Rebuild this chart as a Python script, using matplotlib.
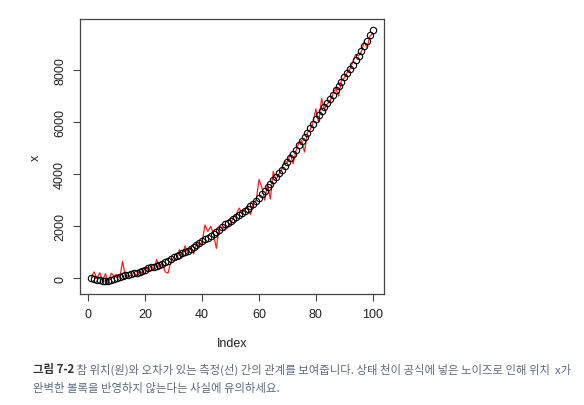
import matplotlib
matplotlib.use("Agg")
import matplotlib.pyplot as plt
import numpy as np

index = list(range(1, 101))
true_x = [0, -30, -60, -80, -90, -95, -90, -70, -40, 10,
          50, 90, 120, 140, 160, 190, 220, 250, 290, 340,
          380, 420, 450, 480, 510, 560, 620, 680, 750, 820,
          860, 910, 960, 1010, 1060, 1130, 1200, 1270, 1350, 1450,
          1500, 1560, 1620, 1690, 1770, 1870, 1980, 2070, 2130, 2200,
          2270, 2340, 2420, 2510, 2600, 2680, 2770, 2870, 2980, 3100,
          3230, 3360, 3490, 3620, 3760, 3900, 4040, 4180, 4320, 4460,
          4620, 4780, 4940, 5110, 5280, 5440, 5600, 5770, 5940, 6110,
          6270, 6430, 6590, 6750, 6900, 7060, 7220, 7380, 7550, 7720,
          7880, 8040, 8200, 8370, 8540, 8730, 8920, 9120, 9330, 9550]
measured = [50, 250, 0, 220, -80, 180, -200, 200, 100, 150,
            0, 650, 80, 100, 120, 220, 100, 300, 180, 420,
            300, 480, 350, 720, 420, 600, 250, 200, 650, 800,
            700, 1100, 850, 1250, 950, 1200, 950, 1350, 1250, 1400,
            2050, 1800, 2000, 1700, 1150, 2000, 1950, 1850, 1950, 2100,
            2350, 2450, 2700, 2500, 2650, 2750, 2450, 2900, 3000, 3800,
            3500, 3000, 3600, 3050, 4100, 3800, 4000, 4200, 4500, 4450,
            4800, 4400, 4900, 5200, 5300, 4850, 5600, 5700, 6000, 6500,
            6000, 6900, 6500, 6700, 6800, 7100, 7300, 7000, 7600, 7700,
            7900, 8050, 8300, 8600, 8550, 8700, 9100, 8850, 9300, 9400]

xticks = [0, 20, 40, 60, 80, 100]
yticks = [0, 2000, 4000, 6000, 8000]

caption_bold = "그림 7-2"
caption_line1 = " 참 위치(원)와 오차가 있는 측정(선) 간의 관계를 보여줍니다. 상태 천이 공식에 넣은 노이즈로 인해 위치  x가"
caption_line2 = "완벽한 볼록을 반영하지 않는다는 사실에 유의하세요."

plt.rcParams["font.family"] = ["Liberation Sans", "DejaVu Sans"]

fig = plt.figure(figsize=(5.84, 4.06), dpi=100)
ax = fig.add_axes([80 / 584, 1 - 295 / 406, 304 / 584, 275 / 406])

ax.plot(index, measured, color="#ff2020", lw=0.9, zorder=2)
ax.plot(index, true_x, "o", mfc="none", mec="black", mew=0.8, ms=4.6, zorder=3)

ax.set_xlim(-2.96, 103.96)
ax.set_ylim(-600, 9960)
ax.set_xticks(xticks)
ax.set_yticks(yticks)
ax.set_yticklabels([str(v) for v in yticks], rotation=90, va="center")
ax.tick_params(length=5, width=0.8, color="#444", labelsize=9, labelcolor="#222", pad=5)
for s in ax.spines.values():
    s.set_color("#444")
    s.set_linewidth(0.9)

ax.set_xlabel("Index", fontsize=9, color="#222", labelpad=12)
ax.set_ylabel("x", fontsize=9, color="#222", labelpad=9)

kr = ["Noto Sans CJK KR", "DejaVu Sans"]
t = fig.text(33 / 584, 1 - 370 / 406, caption_bold, family=kr, fontsize=8.2, weight="bold",
             color="#333333", va="center")
fig.canvas.draw()
bb = t.get_window_extent()
fig.text(bb.x1 / 584, 1 - 370 / 406, caption_line1, family=kr, fontsize=8.2,
         color="#5d6b80", va="center")
fig.text(33 / 584, 1 - 388 / 406, caption_line2, family=kr, fontsize=8.2,
         color="#5d6b80", va="center")

fig.savefig("out.png", dpi=100)
